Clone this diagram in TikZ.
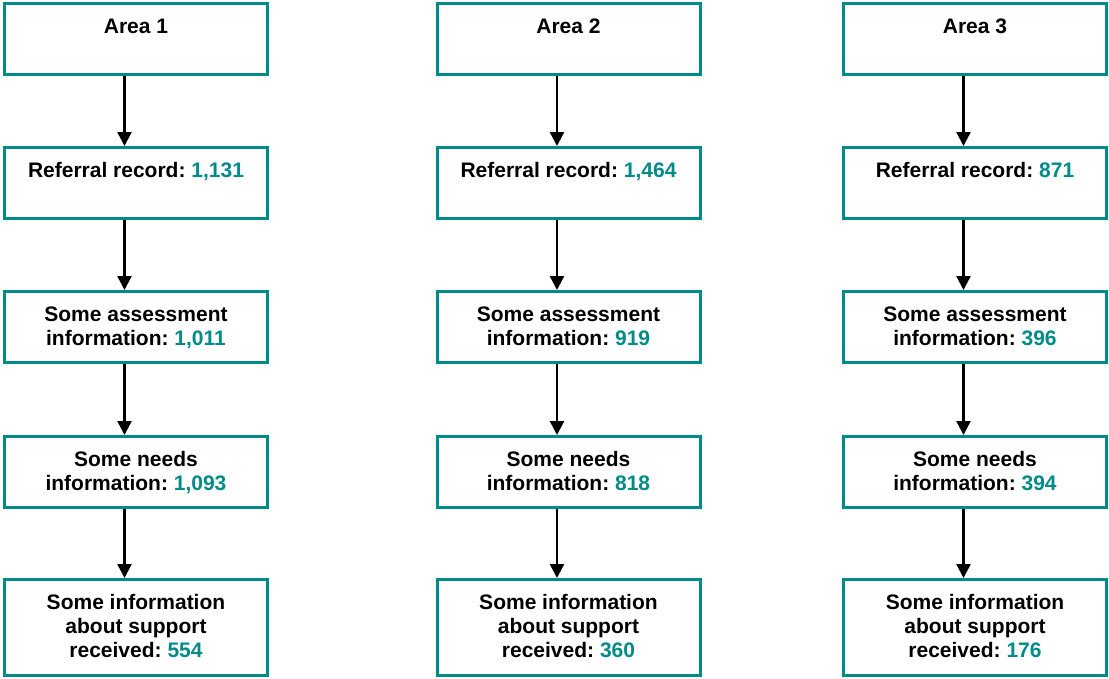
\documentclass[tikz,border=0pt]{standalone}
\usepackage{fontspec}
\setmainfont{Liberation Sans}
\usetikzlibrary{arrows.meta}
\definecolor{tealc}{RGB}{0,139,139}
\frenchspacing
\newcommand\num[1]{\textcolor{tealc}{#1}}
\newcommand\bxt[2]{\parbox[c][#1][t]{263pt}{\centering\fontsize{21pt}{24pt}\selectfont\bfseries\frenchspacing\vspace*{13pt}\strut#2\par}}
\tikzset{
  box/.style={draw=tealc, line width=3pt, inner sep=0pt, outer sep=1.5pt, rectangle},
  arr/.style={draw=black, line width=2.5pt, -{Triangle[width=14pt,length=14pt]}},
}
\begin{document}
\begin{tikzpicture}[x=1pt,y=-1pt]
\useasboundingbox (0,0) rectangle (1109,678);
% column 1
\node[box] (a1) at (136,39) {\bxt{71pt}{Area 1}};
\node[box] (a2) at (136,183) {\bxt{71pt}{Referral record: \num{1,131}}};
\node[box] (a3) at (136,327) {\bxt{71pt}{Some assessment\\information: \num{1,011}}};
\node[box] (a4) at (136,472) {\bxt{71pt}{Some needs\\information: \num{1,093}}};
\node[box] (a5) at (136,627.5) {\bxt{96pt}{Some information\\about support\\received: \num{554}}};
% column 2
\node[box] (b1) at (568.5,39) {\bxt{71pt}{Area 2}};
\node[box] (b2) at (568.5,183) {\bxt{71pt}{Referral record: \num{1,464}}};
\node[box] (b3) at (568.5,327) {\bxt{71pt}{Some assessment\\information: \num{919}}};
\node[box] (b4) at (568.5,472) {\bxt{71pt}{Some needs\\information: \num{818}}};
\node[box] (b5) at (568.5,627.5) {\bxt{96pt}{Some information\\about support\\received: \num{360}}};
% column 3
\node[box] (c1) at (975,39) {\bxt{71pt}{Area 3}};
\node[box] (c2) at (975,183) {\bxt{71pt}{Referral record: \num{871}}};
\node[box] (c3) at (975,327) {\bxt{71pt}{Some assessment\\information: \num{396}}};
\node[box] (c4) at (975,472) {\bxt{71pt}{Some needs\\information: \num{394}}};
\node[box] (c5) at (975,627.5) {\bxt{96pt}{Some information\\about support\\received: \num{176}}};
% arrows
\foreach \c in {a,b,c}{
  \draw[arr] ([xshift=-11.5pt]\c1.south) -- ([xshift=-11.5pt]\c2.north);
  \draw[arr] ([xshift=-11.5pt]\c2.south) -- ([xshift=-11.5pt]\c3.north);
  \draw[arr] ([xshift=-11.5pt]\c3.south) -- ([xshift=-11.5pt]\c4.north);
  \draw[arr] ([xshift=-11.5pt]\c4.south) -- ([xshift=-11.5pt]\c5.north);
}
\end{tikzpicture}
\end{document}
